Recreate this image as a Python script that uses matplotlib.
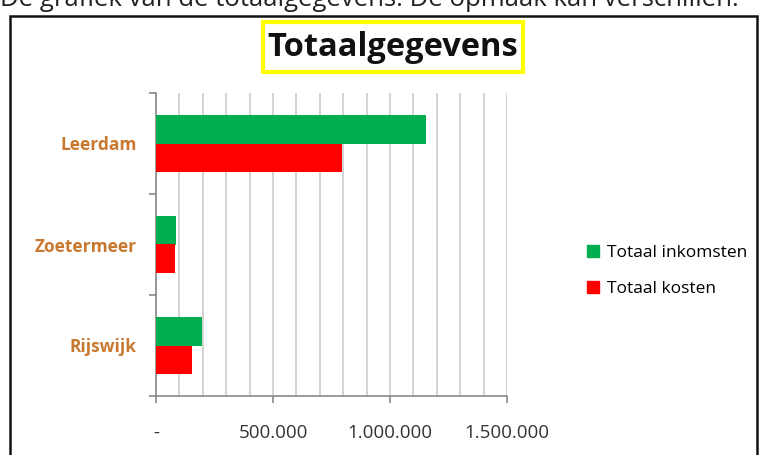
import numpy as np
import matplotlib
matplotlib.use("Agg")
import matplotlib.pyplot as plt
from matplotlib.patches import Rectangle, Patch
from matplotlib.ticker import FuncFormatter, MultipleLocator

# gegevens per vestiging (van onder naar boven)
vestigingen = ["Rijswijk", "Zoetermeer", "Leerdam"]
inkomsten = [195000, 84000, 1152000]
kosten = [153000, 80000, 795000]
x_ticks = [0, 500000, 1000000, 1500000]

groen = "#00AE4F"
rood = "#FF0000"
oranje = "#C8782F"

fig = plt.figure(figsize=(7.63, 4.55), dpi=100)
W, H = 763, 455

# afgesneden zin bovenaan de schermafdruk
fig.text(0, 1 - 6 / H, "De grafiek van de totaalgegevens. De opmaak kan verschillen.",
         fontsize=18.5, family="Open Sans", ha="left", va="baseline", color="#222222")

# kader om de grafiek
fig.patches.append(Rectangle((10 / W, -0.01), 747 / W, 1 - 16 / H + 0.01,
                             transform=fig.transFigure, fill=False,
                             edgecolor="#111111", linewidth=1.8))

ax = fig.add_axes([156 / W, 1 - 396 / H, 351 / W, 303 / H])

y = np.arange(len(vestigingen))
h = 0.285
ax.barh(y + h / 2, inkomsten, height=h, color=groen, label="Totaal inkomsten", zorder=3)
ax.barh(y - h / 2, kosten, height=h, color=rood, label="Totaal kosten", zorder=3)

ax.set_xlim(0, 1500000)
ax.set_ylim(-0.5, 2.5)
ax.xaxis.set_major_locator(matplotlib.ticker.FixedLocator(x_ticks))
ax.xaxis.set_minor_locator(MultipleLocator(100000))
ax.xaxis.set_major_formatter(FuncFormatter(
    lambda v, p: "-" if v == 0 else f"{int(v):,}".replace(",", ".")))
ax.grid(axis="x", which="both", color="#D0D0D0", linewidth=1.3, zorder=0)

ax.set_yticks([-0.5, 0.5, 1.5, 2.5])
ax.set_yticklabels([])
ax.set_yticks(y, minor=True)
ax.set_yticklabels(vestigingen, minor=True)
ax.tick_params(axis="y", which="major", length=5, color="#8A8A8A", width=1.2)
ax.tick_params(axis="y", which="minor", length=0, pad=14,
               labelcolor=oranje, labelsize=12.5)
for lbl in ax.get_yticklabels(minor=True):
    lbl.set_fontweight("bold")
    lbl.set_family("Open Sans")

ax.tick_params(axis="x", which="major", length=5, color="#8A8A8A", width=1.2,
               labelsize=13.5, labelcolor="#333333", pad=15)
ax.tick_params(axis="x", which="minor", length=0)
for lbl in ax.get_xticklabels():
    lbl.set_family("Open Sans")

for s in ["top", "right"]:
    ax.spines[s].set_visible(False)
for s in ["left", "bottom"]:
    ax.spines[s].set_color("#8A8A8A")
    ax.spines[s].set_linewidth(1.2)

# legenda
handles = [Patch(color=groen), Patch(color=rood)]
fig.legend(handles, ["Totaal inkomsten", "Totaal kosten"],
           loc="upper left", bbox_to_anchor=(571 / W, 1 - 229 / H),
           frameon=False, handlelength=0.7, handleheight=0.7,
           handletextpad=0.45, labelspacing=1.15,
           prop={"family": "Open Sans", "size": 12.5})

# titel in geel kader
fig.text(393 / W, 1 - 47 / H, "Totaalgegevens", fontsize=23.5, fontweight="bold",
         family="Open Sans", ha="center", va="center", color="#111111")
fig.patches.append(Rectangle((263 / W, 1 - 72 / H), 260 / W, 50 / H,
                             transform=fig.transFigure, fill=False,
                             edgecolor="#FFFF00", linewidth=3))

fig.savefig("out.png", dpi=100)
